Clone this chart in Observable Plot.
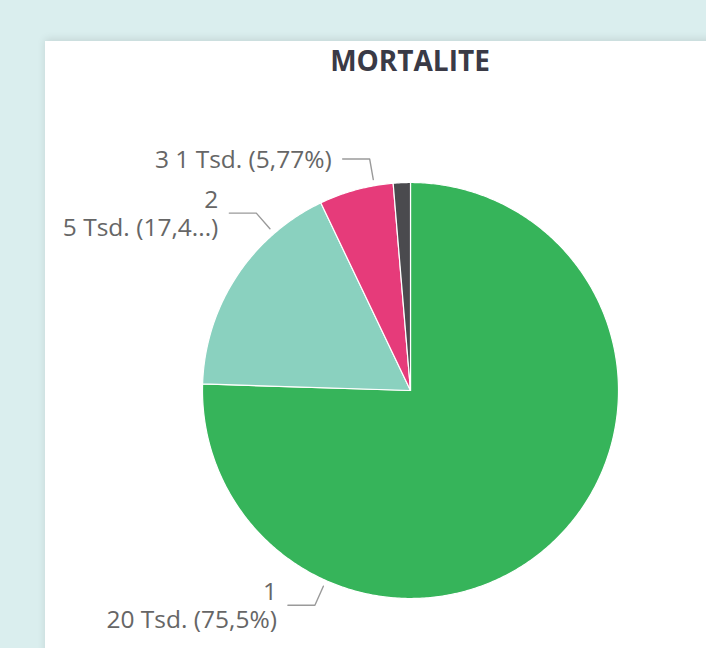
<!DOCTYPE html>
<html>
<head>
<meta charset="utf-8">
<script src="https://cdn.jsdelivr.net/npm/d3@7"></script>
<script src="https://cdn.jsdelivr.net/npm/@observablehq/plot@0.6"></script>
<style>
  html, body { margin: 0; padding: 0; width: 706px; height: 648px; overflow: hidden; background: #daeeee; }
  #panel { position: absolute; left: 45px; top: 41px; width: 720px; height: 640px; background: #fff;
           box-shadow: 0 -2px 8px rgba(0,0,0,0.10); }
  #title { position: absolute; left: 0; top: 0; width: 730px; height: 40px; line-height: 38px; text-align: center;
           font-family: "Open Sans", sans-serif; font-weight: 700; font-size: 28px; color: #3a3a46; }
  #chart { position: absolute; left: 0; top: 40px; }
</style>
</head>
<body>
<div id="panel">
  <div id="title">MORTALITE</div>
  <div id="chart"></div>
</div>
<script>
// ---- data ----
const categories = ["1", "2", "3", "4"];
const values = [20000, 4610, 1528, 352];          // shares 75,5% / 17,4% / 5,77% / 1,33%
const colors = ["#36b45a", "#8ad1bf", "#e63b7a", "#4a4a4e"];
const labelCategories = ["1", "2", "3"];
const labelTexts = ["1\n20 Tsd. (75,5%)", "2\n5 Tsd. (17,4...)", "3 1 Tsd. (5,77%)"];
const labelAngles = [204, 319, 350];              // degrees clockwise from 12 o'clock where leaders touch

// ---- layout ----
const W = 661, H = 567;
const R = 208;            // pie radius in px
const cx = 365, cy = 309; // pie centre inside the svg

const pie = d3.pie().sort(null).value(d => d.value);
const arcs = pie(categories.map((c, i) => ({category: c, value: values[i], color: colors[i]})));

const pt = (a, r) => ({x: r * Math.sin(a), y: r * Math.cos(a)});

const slicePts = [];
for (const a of arcs) {
  const n = Math.max(4, Math.ceil((a.endAngle - a.startAngle) / 0.01));
  slicePts.push({key: a.data.category, color: a.data.color, ...pt(0, 0)});
  for (let k = 0; k <= n; k++) {
    const ang = a.startAngle + (a.endAngle - a.startAngle) * k / n;
    slicePts.push({key: a.data.category, color: a.data.color, ...pt(ang, 1)});
  }
}

const px = 1 / R; // one pixel in data units
const leaderPts = [];
const labels = [];
labelCategories.forEach((c, i) => {
  const a = labelAngles[i] * Math.PI / 180;
  const s = pt(a, 1.03), e = pt(a, 1.13);
  leaderPts.push({key: c, ...s}, {key: c, ...e}, {key: c, x: e.x - 27 * px, y: e.y});
  labels.push({text: labelTexts[i], x: e.x - 27 * px, y: e.y});
});

const chart = Plot.plot({
  width: W, height: H,
  margin: 0,
  x: {domain: [-1, 1], range: [cx - R, cx + R], axis: null},
  y: {domain: [-1, 1], range: [cy + R, cy - R], axis: null},
  style: {background: "transparent", overflow: "visible"},
  marks: [
    Plot.line(slicePts, {x: "x", y: "y", z: "key", fill: "color", stroke: "#ffffff", strokeWidth: 1.2, curve: "linear-closed"}),
    Plot.line(leaderPts, {x: "x", y: "y", z: "key", stroke: "#9a9a9a", strokeWidth: 1.4}),
    Plot.text(labels, {x: "x", y: "y", text: "text", dx: -11, textAnchor: "end", lineAnchor: "middle",
      lineHeight: 1.12, fontSize: 24.5, fill: "#666666", fontFamily: "Open Sans"})
  ]
});
document.getElementById("chart").appendChild(chart);
</script>
</body>
</html>
